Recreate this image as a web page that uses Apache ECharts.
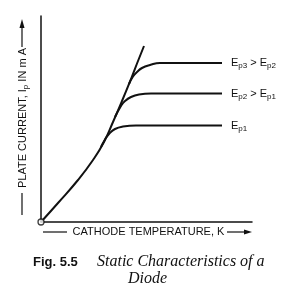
<!DOCTYPE html>
<html>
<head>
<meta charset="utf-8">
<script src="https://cdn.jsdelivr.net/npm/echarts@6/dist/echarts.min.js"></script>
<style>html,body{margin:0;padding:0;background:#fff;}#c{width:295px;height:297px;}</style>
</head>
<body>
<div id="c"></div>
<script>
// Main emission curve (temperature-limited region)
const mainTemp    = [0, 17, 37, 52, 63, 72, 81, 90, 97, 103];
const mainCurrent = [0, 19, 42, 62, 80, 100, 121, 143, 161, 176];
// Saturation curves for different plate voltages
const ep1Temp    = [60, 64, 68, 74, 82, 95, 181];
const ep1Current = [75, 82.5, 88, 93, 95.5, 96.5, 96.5];
const ep2Temp    = [74, 80, 84, 90, 98, 110, 181];
const ep2Current = [105, 116, 121, 125, 127.5, 128.5, 128.5];
const ep3Temp    = [88, 92, 96, 101, 109, 119, 181];
const ep3Current = [138, 145.5, 150, 154, 157, 159, 159];
const curveLabels = ['E{s|p1}', 'E{s|p2} > E{s|p1}', 'E{s|p3} > E{s|p2}'];
const axisTitles = { x: 'CATHODE TEMPERATURE, K', y: 'PLATE CURRENT, I{s|p} IN m A' };
const caption = { fig: 'Fig. 5.5', title1: 'Static Characteristics of a', title2: 'Diode' };

const zip = (a, b) => a.map((v, i) => [v, b[i]]);
const sans = 'Liberation Sans, Arial, sans-serif';
const serif = 'Liberation Serif, Times New Roman, serif';
const labelRich = { s: { fontSize: 8, fontFamily: sans, color: '#111', verticalAlign: 'bottom', padding: [6, 0, 0, 0] } };

function satSeries(t, c, lbl) {
  return {
    type: 'line', data: zip(t, c), smooth: 0.5, symbol: 'none',
    lineStyle: { color: '#111', width: 2 },
    endLabel: { show: true, formatter: lbl, distance: 9, fontSize: 11, fontFamily: sans, color: '#111', rich: labelRich },
    z: 3
  };
}

const chart = echarts.init(document.getElementById('c'), null, { renderer: 'canvas' });
chart.setOption({
  animation: false,
  backgroundColor: '#fff',
  grid: { left: 41, top: 16, width: 211, height: 206 },
  xAxis: { type: 'value', min: 0, max: 211, axisLine: { show: true, lineStyle: { color: '#111', width: 1.5 } },
           axisTick: { show: false }, axisLabel: { show: false }, splitLine: { show: false } },
  yAxis: { type: 'value', min: 0, max: 206, axisLine: { show: true, lineStyle: { color: '#111', width: 1.5 } },
           axisTick: { show: false }, axisLabel: { show: false }, splitLine: { show: false } },
  series: [
    { type: 'line', data: zip(mainTemp, mainCurrent), smooth: 0.5, symbol: 'none',
      lineStyle: { color: '#111', width: 2 }, z: 3 },
    satSeries(ep1Temp, ep1Current, curveLabels[0]),
    satSeries(ep2Temp, ep2Current, curveLabels[1]),
    satSeries(ep3Temp, ep3Current, curveLabels[2]),
    { type: 'scatter', data: [[0, 0]], symbol: 'circle', symbolSize: 6,
      itemStyle: { color: '#fff', borderColor: '#111', borderWidth: 1.3 }, z: 5, silent: true }
  ],
  graphic: [
    // y-axis title
    { type: 'text', x: 23, y: 118, rotation: Math.PI / 2,
      style: { text: axisTitles.y, fontSize: 11, fontFamily: sans, fill: '#111', align: 'center', verticalAlign: 'middle',
               rich: { s: { fontSize: 8, fontFamily: sans, fill: '#111', padding: [5, 0, 0, 0] } } } },
    { type: 'line', shape: { x1: 22, y1: 193, x2: 22, y2: 215 }, style: { stroke: '#111', lineWidth: 1.2 } },
    { type: 'line', shape: { x1: 22, y1: 27, x2: 22, y2: 47 }, style: { stroke: '#111', lineWidth: 1.2 } },
    { type: 'polygon', shape: { points: [[22, 19], [19.5, 28], [24.5, 28]] }, style: { fill: '#111' } },
    // x-axis title
    { type: 'line', shape: { x1: 43, y1: 232, x2: 67, y2: 232 }, style: { stroke: '#111', lineWidth: 1.2 } },
    { type: 'text', x: 148.5, y: 232,
      style: { text: axisTitles.x, fontSize: 11, fontFamily: sans, fill: '#111', align: 'center', verticalAlign: 'middle' } },
    { type: 'line', shape: { x1: 227, y1: 232, x2: 246, y2: 232 }, style: { stroke: '#111', lineWidth: 1.2 } },
    { type: 'polygon', shape: { points: [[252, 232], [244, 229.5], [244, 234.5]] }, style: { fill: '#111' } },
    // caption
    { type: 'text', x: 33, y: 262,
      style: { text: caption.fig, fontSize: 13, fontWeight: 'bold', fontFamily: sans, fill: '#111', align: 'left', verticalAlign: 'middle' } },
    { type: 'text', x: 97, y: 262,
      style: { text: caption.title1, fontSize: 16, fontStyle: 'italic', fontFamily: serif, fill: '#111', align: 'left', verticalAlign: 'middle' } },
    { type: 'text', x: 128, y: 279,
      style: { text: caption.title2, fontSize: 16, fontStyle: 'italic', fontFamily: serif, fill: '#111', align: 'left', verticalAlign: 'middle' } }
  ]
});
</script>
</body>
</html>
